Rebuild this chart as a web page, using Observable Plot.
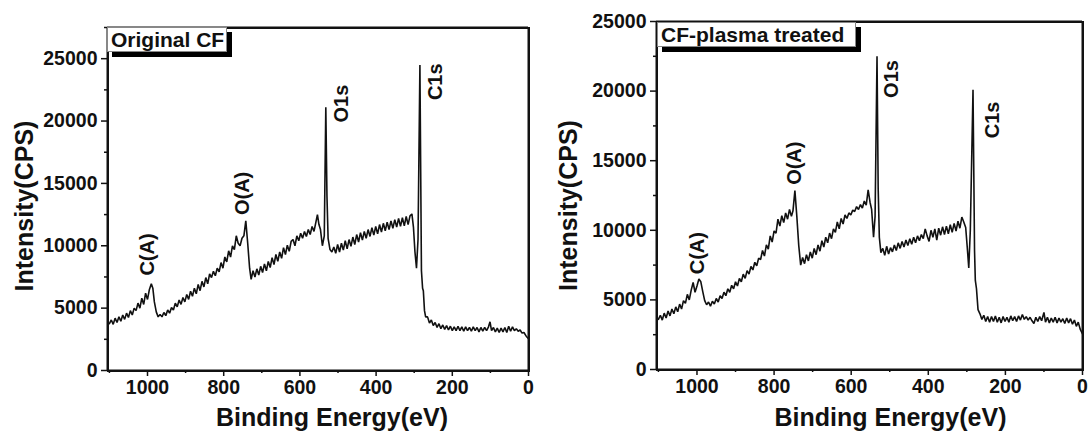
<!DOCTYPE html>
<html>
<head>
<meta charset="utf-8">
<script src="https://cdn.jsdelivr.net/npm/d3@7"></script>
<script src="https://cdn.jsdelivr.net/npm/@observablehq/plot@0.6"></script>
<style>
  html, body { margin: 0; padding: 0; background: #fff; }
  #wrap { position: relative; width: 1088px; height: 433px; font-family: "Liberation Sans", Arial, sans-serif; }
  .panel { position: absolute; top: 0; }
  .box { position: absolute; border: 2px solid #111; box-sizing: border-box; pointer-events: none; }
  .legend { position: absolute; background: #fff; border: 1px solid #888; box-shadow: 5px 5px 0 #000;
            font-weight: bold; font-size: 21px; line-height: 23px; padding: 0 3px; box-sizing: border-box; white-space: nowrap; color: #111; }
</style>
</head>
<body>
<div id="wrap"></div>
<script>
// ---------- data ----------
const xTicksMajor = [1000, 800, 600, 400, 200, 0];
const xTicksMinor = [1100, 900, 700, 500, 300, 100];
const yTicksMajorLeft = [0, 5000, 10000, 15000, 20000, 25000];
const yTicksMinorLeft = [2500, 7500, 12500, 17500, 22500, 27500];
const yTicksMajorRight = [0, 5000, 10000, 15000, 20000, 25000];
const yTicksMinorRight = [2500, 7500, 12500, 17500, 22500];

const panelTitles = ["Original CF", "CF-plasma treated"];
const peakNames = ["C(A)", "O(A)", "O1s", "C1s"];
const peakLabelEnergyLeft = [1000, 750, 490, 244];
const peakLabelIntensityLeft = [9300, 14200, 21400, 23150];
const peakLabelEnergyRight = [998, 747, 495, 233];
const peakLabelIntensityRight = [8360, 14820, 20870, 17930];

// [binding energy (eV), intensity (CPS)]
const originalCF = [[1100,3750],[1095,4050],[1090,3700],[1085,4200],[1080,3850],[1075,4300],[1070,3950],[1065,4450],[1060,4100],[1055,4600],[1050,4250],[1045,4800],[1040,4450],[1035,5000],[1030,4800],[1025,5400],[1020,5000],[1015,5800],[1010,5300],[1005,6200],[1000,5700],[995,6500],[990,6950],[986,6600],[982,5500],[977,4700],[972,4300],[967,4500],[962,4300],[957,4650],[952,4400],[947,4850],[942,4600],[937,5050],[932,4850],[927,5400],[922,5100],[917,5650],[912,5300],[907,5850],[902,5500],[897,6100],[892,5700],[887,6350],[882,5950],[877,6600],[872,6150],[867,6900],[862,6400],[857,7150],[852,6700],[847,7450],[842,6950],[837,7750],[832,7450],[827,7950],[822,7600],[817,8200],[812,7900],[807,8650],[802,8200],[797,9100],[792,8700],[787,9600],[782,9100],[777,10000],[772,9700],[767,10800],[762,10200],[757,10000],[752,10600],[747,10800],[742,12000],[737,10200],[732,8200],[728,7300],[723,8000],[718,7500],[713,8150],[708,7650],[703,8350],[698,7850],[693,8550],[688,8000],[683,8750],[678,8250],[673,9050],[668,8500],[663,9300],[658,8750],[653,9500],[648,9000],[643,9850],[638,9300],[633,10050],[628,9550],[623,10350],[618,10500],[613,10000],[608,10800],[603,10400],[598,11000],[593,10600],[588,11150],[583,10750],[578,11300],[573,10900],[568,11550],[563,11150],[558,11900],[554,12500],[550,11700],[546,11300],[541,10000],[536,10800],[532,21100],[529,14000],[526,10600],[521,9700],[516,9500],[511,9900],[506,9400],[501,10100],[496,9500],[491,10200],[486,9650],[481,10400],[476,9750],[471,10500],[466,9950],[461,10700],[456,10100],[451,10900],[446,10300],[441,11050],[436,10450],[431,11150],[426,10600],[421,11300],[416,10750],[411,11450],[406,10850],[401,11550],[396,10950],[391,11700],[386,11100],[381,11800],[376,11200],[371,11900],[366,11300],[361,12000],[356,11400],[351,12100],[346,11500],[341,12200],[336,11550],[331,12250],[326,11600],[321,12350],[316,11700],[311,12400],[306,12550],[302,11500],[298,9500],[294,8200],[290,10500],[285,24500],[281,8000],[278,6600],[276,6400],[273,4800],[270,4300],[265,4300],[260,3800],[255,4050],[250,3600],[245,3850],[240,3450],[235,3750],[230,3350],[225,3650],[220,3300],[215,3600],[210,3250],[205,3550],[200,3200],[195,3500],[190,3200],[185,3550],[180,3200],[175,3500],[170,3150],[165,3500],[160,3200],[155,3450],[150,3150],[145,3500],[140,3200],[135,3450],[130,3100],[125,3450],[120,3150],[115,3450],[110,3200],[105,3500],[101,3900],[97,3200],[92,3450],[87,3100],[82,3400],[77,3050],[72,3400],[67,3100],[62,3450],[57,3050],[52,3550],[47,3150],[42,3500],[37,3200],[32,3350],[27,3150],[22,3250],[17,3000],[12,3050],[6,2750],[0,2550]];

const plasmaCF = [[1100,3600],[1095,3900],[1090,3550],[1085,4050],[1080,3700],[1075,4200],[1070,3850],[1065,4350],[1060,4000],[1055,4500],[1050,4150],[1045,4700],[1040,4350],[1035,4950],[1030,4750],[1025,5400],[1020,5000],[1015,5700],[1010,6250],[1005,5550],[1000,6000],[995,6500],[990,6300],[985,5600],[980,4950],[975,4650],[970,4850],[965,4550],[960,4900],[955,4700],[950,5100],[945,4850],[940,5300],[935,5100],[930,5550],[925,5300],[920,5800],[915,5550],[910,6050],[905,5800],[900,6300],[895,6000],[890,6550],[885,6300],[880,6850],[875,6550],[870,7100],[865,6850],[860,7400],[855,7150],[850,7700],[845,7450],[840,8000],[835,7900],[830,8550],[825,8150],[820,8950],[815,8650],[810,9600],[805,9150],[800,9950],[795,9800],[790,10800],[785,10300],[780,11050],[775,10550],[770,11250],[765,10800],[760,11500],[755,11000],[751,11400],[746,12850],[741,11000],[736,8900],[731,7500],[726,8050],[721,7600],[716,8250],[711,7800],[706,8450],[701,8000],[696,8700],[691,8250],[686,8950],[681,8500],[676,9250],[671,8800],[666,9500],[661,9100],[656,9800],[651,9400],[646,10100],[641,9850],[636,10600],[631,10100],[626,10850],[621,10450],[616,11100],[611,10850],[606,11250],[601,11100],[596,11450],[591,11350],[586,11700],[581,11500],[576,11850],[571,11600],[566,12100],[561,11800],[556,12900],[551,12000],[547,11500],[542,9500],[538,11000],[533,22500],[530,13000],[527,9500],[523,8400],[518,8700],[513,8200],[508,8850],[503,8300],[498,8750],[493,8450],[488,8950],[483,8550],[478,9100],[473,8700],[468,9200],[463,8800],[458,9300],[453,8900],[448,9400],[443,9000],[438,9500],[433,9100],[428,9600],[423,9250],[418,9700],[413,9400],[408,10100],[403,9600],[398,9200],[393,10000],[388,9500],[383,10100],[378,9300],[373,10150],[368,9650],[363,10250],[358,9700],[353,10300],[348,9750],[343,10400],[338,9850],[333,10500],[328,9950],[323,10650],[318,10150],[313,10950],[308,10600],[303,10200],[299,8800],[295,7300],[291,10000],[284,20100],[280,8500],[278,6400],[275,5800],[271,4300],[266,4000],[261,3600],[256,3900],[251,3450],[246,3800],[241,3400],[236,3800],[231,3450],[226,3850],[221,3400],[216,3750],[211,3350],[206,3800],[201,3450],[196,3750],[191,3400],[186,3850],[181,3500],[176,3800],[171,3450],[166,3850],[161,3550],[156,3950],[151,3600],[146,3800],[141,3550],[136,3750],[131,3500],[126,3300],[121,3750],[116,3450],[111,3800],[106,3500],[100,4100],[96,3400],[91,3750],[86,3350],[81,3700],[76,3400],[71,3750],[66,3350],[61,3700],[56,3400],[51,3650],[46,3300],[41,3700],[36,3350],[31,3650],[26,3250],[21,3550],[16,3100],[11,3400],[6,2900],[0,2550]];

const xDomain = [1105, 0];

// ---------- drawing ----------
function panel(cfg) {
  const labels = peakNames.map((n, i) => ({name: n, e: cfg.labelE[i], v: cfg.labelV[i]}));
  return Plot.plot({
    width: 544, height: 433,
    marginLeft: cfg.ml, marginRight: cfg.mr, marginTop: cfg.mt, marginBottom: cfg.mb,
    style: {fontFamily: "'Liberation Sans', Arial, sans-serif", fontWeight: "bold", fontSize: "19px", color: "#111", background: "#fff", overflow: "visible"},
    x: {domain: xDomain},
    y: {domain: cfg.yDomain},
    marks: [
      Plot.axisX({ticks: xTicksMinor, tickSize: 3, text: null, label: null, strokeWidth: 1.5}),
      Plot.axisX({ticks: xTicksMajor, tickSize: 6, tickPadding: 4, tickFormat: "d", label: null, strokeWidth: 1.5, fontSize: 19.5}),
      Plot.axisY({ticks: cfg.yMinor, tickSize: 3, text: null, label: null, strokeWidth: 1.5}),
      Plot.axisY({ticks: cfg.yMajor, tickSize: 6, tickPadding: 4, tickFormat: "d", label: null, strokeWidth: 1.5, fontSize: 19.5}),
      Plot.line(cfg.data, {x: d => d[0], y: d => d[1], stroke: "#111", strokeWidth: 1.6, strokeLinejoin: "miter"}),
      Plot.ruleX(xDomain, {stroke: "#111", strokeWidth: 2}),
      Plot.ruleY(cfg.yDomain, {stroke: "#111", strokeWidth: 2}),
      Plot.text(labels, {x: "e", y: "v", text: "name", rotate: -90, fontSize: 20, fontWeight: "bold", fill: "#111", textAnchor: "middle", lineAnchor: "middle"}),
      Plot.text([cfg.xLabel], {frameAnchor: "bottom", text: d => d, dx: cfg.xdx, dy: cfg.xdy, fontSize: 25, fontWeight: "bold", lineAnchor: "middle", fill: "#111"}),
      Plot.text([cfg.yLabel], {frameAnchor: "left", text: d => d, rotate: -90, dx: cfg.ydx, dy: cfg.ydy, fontSize: 25, fontWeight: "bold", lineAnchor: "middle", textAnchor: "middle", fill: "#111"})
    ]
  });
}

const wrap = document.getElementById("wrap");

const left = panel({
  data: originalCF, ml: 107, mr: 16, mt: 27, mb: 63, yDomain: [0, 27500],
  yMajor: yTicksMajorLeft, yMinor: yTicksMinorLeft,
  labelE: peakLabelEnergyLeft, labelV: peakLabelIntensityLeft,
  xLabel: "Binding Energy(eV)", yLabel: "Intensity(CPS)",
  xdx: 14, xdy: 47, ydx: -83, ydy: 7
});
left.classList.add("panel"); left.style.left = "0px";
wrap.appendChild(left);

const right = panel({
  data: plasmaCF, ml: 112, mr: 6, mt: 21, mb: 64, yDomain: [0, 25000],
  yMajor: yTicksMajorRight, yMinor: yTicksMinorRight,
  labelE: peakLabelEnergyRight, labelV: peakLabelIntensityRight,
  xLabel: "Binding Energy(eV)", yLabel: "Intensity(CPS)",
  xdx: 21, xdy: 48, ydx: -88, ydy: 10
});
right.classList.add("panel"); right.style.left = "544px";
wrap.appendChild(right);

// plot-area borders, aligned with the rules drawn by Plot
function addBox(l, t, w, h) {
  const b = document.createElement("div");
  b.className = "box";
  Object.assign(b.style, {left: l + "px", top: t + "px", width: w + "px", height: h + "px"});
  wrap.appendChild(b);
}
addBox(106.5, 26.5, 423, 345);
addBox(655.5, 20.5, 428, 350);

// panel title boxes
const t1 = document.createElement("div");
t1.className = "legend"; t1.textContent = panelTitles[0];
Object.assign(t1.style, {left: "107px", top: "27px", width: "120px", height: "25px"});
wrap.appendChild(t1);
const t2 = document.createElement("div");
t2.className = "legend"; t2.textContent = panelTitles[1];
Object.assign(t2.style, {left: "657px", top: "22px", width: "199px", height: "25px"});
wrap.appendChild(t2);
</script>
</body>
</html>
